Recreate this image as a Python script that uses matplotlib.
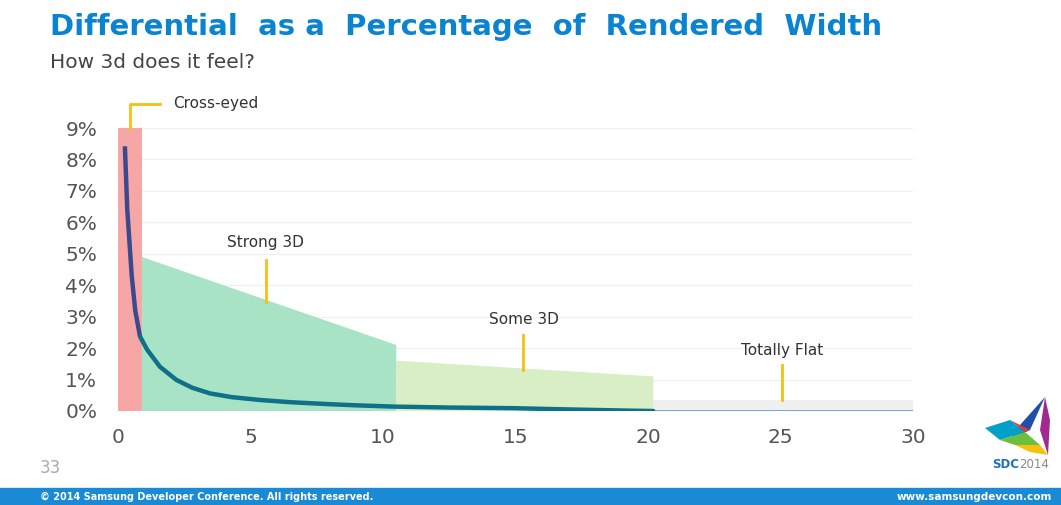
import matplotlib
matplotlib.use("Agg")
import matplotlib.pyplot as plt
import numpy as np
from matplotlib.patches import Polygon, Rectangle

plt.rcParams['font.family'] = ['DejaVu Sans']

# ---- data ----
zone_names = ["Cross-eyed", "Strong 3D", "Some 3D", "Totally Flat"]
zone_start = [0.0, 0.9, 10.5, 20.2]
zone_end = [0.9, 10.5, 20.2, 30.0]
zone_top_left = [9.0, 4.9, 1.6, 0.35]
zone_top_right = [9.0, 2.1, 1.1, 0.35]
zone_colors = ["#f7a6a6", "#a9e3c6", "#d8efc6", "#efefef"]

curve_x = [0.26, 0.35, 0.52, 0.65, 0.83, 1.1, 1.58, 2.2, 2.8, 3.47, 4.3, 5.36, 6.5, 7.9, 9.0, 10.4, 12.5, 14.9, 17.0, 19.4, 20.2]
curve_y = [8.42, 6.4, 4.28, 3.2, 2.37, 1.95, 1.41, 0.99, 0.74, 0.56, 0.44, 0.35, 0.28, 0.22, 0.18, 0.14, 0.11, 0.09, 0.05, 0.01, 0.0]
flat_x = [20.2, 30.0]
flat_y = [0.0, 0.0]

x_ticks = [0, 5, 10, 15, 20, 25, 30]
y_ticks = [0, 1, 2, 3, 4, 5, 6, 7, 8, 9]

# callouts for the three lower zones
callout_x = [5.58, 15.3, 25.06]
callout_text_y = [5.35, 2.9, 1.94]
callout_line_top = [4.8, 2.42, 1.46]
callout_line_bot = [3.47, 1.3, 0.35]

fig = plt.figure(figsize=(10.61, 5.05), dpi=100)
ax = fig.add_axes([118 / 1061, 1 - 411 / 505, 795 / 1061, (411 - 96.6) / 505])

for s, e, tl, tr, c in zip(zone_start, zone_end, zone_top_left, zone_top_right, zone_colors):
    ax.fill([s, s, e, e], [0, tl, tr, 0], color=c, lw=0, zorder=1)

ax.plot(flat_x, flat_y, color="#4a94d0", lw=1.8, zorder=3, solid_capstyle="butt")
cx = np.array(curve_x)
cy = np.array(curve_y)
m = cx <= 0.9
ax.plot(cx[m], cy[m], color="#3b4a8e", lw=3.2, zorder=4, solid_capstyle="butt")
k = np.where(m)[0][-1]
ax.plot(cx[k:], cy[k:], color="#0f7089", lw=3.2, zorder=4, solid_capstyle="round")

# callouts
yellow = "#f5c010"
ax.plot([0.45, 0.45, 1.6], [9.0, 9.75, 9.75], color=yellow, lw=2, clip_on=False, zorder=5)
ax.text(2.07, 9.78, "Cross-eyed", ha="left", va="center", fontsize=11, color="#333333", clip_on=False)
for lab, x, ty, l0, l1 in zip(zone_names[1:], callout_x, callout_text_y, callout_line_top, callout_line_bot):
    ax.plot([x, x], [l0, l1], color=yellow, lw=2, zorder=5)
    ax.text(x, ty, lab, ha="center", va="center", fontsize=11, color="#333333")

ax.set_xlim(0, 30)
ax.set_ylim(0, 10)
ax.set_xticks(x_ticks)
ax.set_yticks(y_ticks)
ax.set_yticklabels([f"{v}%" for v in y_ticks])
ax.tick_params(length=0, labelsize=14.5, colors="#555555")
ax.tick_params(axis="y", pad=15)
ax.tick_params(axis="x", pad=12)
ax.set_axisbelow(True)
ax.yaxis.grid(True, color="#f0f0f0", lw=1)
for sp in ax.spines.values():
    sp.set_visible(False)

# slide decorations
fig.text(50 / 1061, 1 - 27 / 505, "Differential  as a  Percentage  of  Rendered  Width", fontsize=21,
         fontweight="bold", color="#0a84d0", ha="left", va="center")
fig.text(50 / 1061, 1 - 62 / 505, "How 3d does it feel?", fontsize=14.5, color="#444444", ha="left", va="center")
fig.text(40 / 1061, 1 - 468 / 505, "33", fontsize=12, color="#aaaaaa", ha="left", va="center")

fig.patches.append(Rectangle((0, 0), 1, 17 / 505, transform=fig.transFigure, color="#1a8ad4", zorder=0))
fig.text(40 / 1061, 8.5 / 505, "\u00a9 2014 Samsung Developer Conference. All rights reserved.", fontsize=7,
         fontweight="bold", color="white", ha="left", va="center")
fig.text(1052 / 1061, 8.5 / 505, "www.samsungdevcon.com", fontsize=7.5, fontweight="bold",
         color="white", ha="right", va="center")

# SDC logo (rough)
def px(x, y):
    return (x / 1061, 1 - y / 505)

logo = [
    ([(1045, 397), (1020, 425), (1010, 440), (1030, 430)], "#1f4fa8"),
    ([(1045, 397), (1040, 430), (1048, 455), (1050, 420)], "#a02a8f"),
    ([(985, 428), (1010, 420), (1025, 432), (1000, 440)], "#00a0c8"),
    ([(1000, 440), (1025, 432), (1040, 445), (1015, 445)], "#6cbf3c"),
    ([(1015, 445), (1040, 445), (1048, 455), (1030, 452)], "#f5c010"),
    ([(1020, 425), (1030, 430), (1025, 432), (1010, 420)], "#e03a3a"),
]
for pts, c in logo:
    fig.patches.append(Polygon([px(*p) for p in pts], closed=True, transform=fig.transFigure, color=c, lw=0))
fig.text(1019 / 1061, 1 - 465 / 505, "SDC", fontsize=8.5, fontweight="bold", color="#1f6fc0", ha="right", va="center")
fig.text(1019 / 1061, 1 - 465 / 505, "2014", fontsize=8.5, color="#888888", ha="left", va="center")

fig.savefig("out.png", dpi=100)
